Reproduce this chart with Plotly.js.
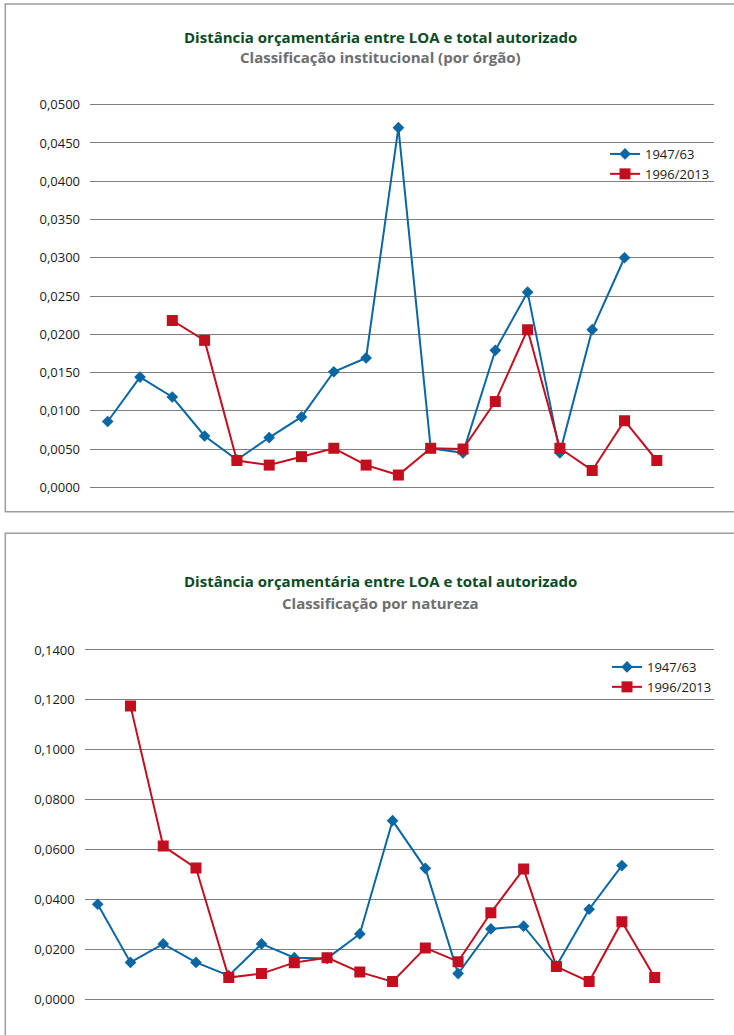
<!DOCTYPE html>
<html>
<head>
<meta charset="utf-8">
<script src="https://cdn.plot.ly/plotly-3.0.1.min.js"></script>
<style>html,body{margin:0;padding:0;background:#fff;}#chart{width:734px;height:1035px;}</style>
</head>
<body>
<div id="chart"></div>
<script>
// Categories (unlabelled positions along x)
const categories = [1,2,3,4,5,6,7,8,9,10,11,12,13,14,15,16,17,18];

// Panel 1: Classificação institucional (por órgão)
const inst1947 = [0.0086,0.0144,0.0118,0.0067,0.0036,0.0065,0.0092,0.0151,0.0169,0.0470,0.0051,0.0045,0.0179,0.0255,0.0045,0.0206,0.0300,null];
const inst1996 = [null,null,0.0218,0.0192,0.0035,0.0029,0.0040,0.0051,0.0029,0.0016,0.0051,0.0050,0.0112,0.0206,0.0051,0.0022,0.0087,0.0035];

// Panel 2: Classificação por natureza
const nat1947 = [0.0381,0.0148,0.0222,0.0148,0.0095,0.0222,0.0167,0.0164,0.0262,0.0716,0.0525,0.0103,0.0282,0.0293,0.0133,0.0361,0.0536,null];
const nat1996 = [null,0.1176,0.0614,0.0526,0.0087,0.0103,0.0147,0.0167,0.0109,0.0071,0.0206,0.0151,0.0347,0.0522,0.0131,0.0071,0.0311,0.0087];

const seriesNames = ['1947/63','1996/2013'];
const titleMain = 'Distância orçamentária entre LOA e total autorizado';
const subTitles = ['Classificação institucional (por órgão)','Classificação por natureza'];

const BLUE = '#0a67a3', RED = '#c20e1f';
const W = 734, H = 1035;
const px = v => v / W, py = v => 1 - v / H;

function blueTrace(y, xa, ya, lg) {
  return {x: categories, y: y, xaxis: xa, yaxis: ya, name: seriesNames[0], legend: lg,
    type: 'scatter', mode: 'lines+markers', connectgaps: false,
    line: {color: BLUE, width: 2}, marker: {symbol: 'diamond', size: 9, color: BLUE}};
}
function redTrace(y, xa, ya, lg) {
  return {x: categories, y: y, xaxis: xa, yaxis: ya, name: seriesNames[1], legend: lg,
    type: 'scatter', mode: 'lines+markers', connectgaps: false,
    line: {color: RED, width: 2}, marker: {symbol: 'square', size: 11, color: RED}};
}

const data = [
  blueTrace(inst1947, 'x', 'y', 'legend'),
  redTrace(inst1996, 'x', 'y', 'legend'),
  blueTrace(nat1947, 'x2', 'y2', 'legend2'),
  redTrace(nat1996, 'x2', 'y2', 'legend2')
];

const tickFont = {family: 'Open Sans, sans-serif', size: 13, color: '#1a1a1a'};
const xCommon = {showgrid: false, zeroline: false, showticklabels: false, ticks: '', showline: false, fixedrange: true};
const yCommon = {showgrid: true, gridcolor: '#7f7f7f', gridwidth: 1, zeroline: false, showline: false,
  tickformat: '.4f', tickfont: tickFont, ticks: '', ticklabelstandoff: 9, fixedrange: true};

const legendFont = {family: 'Open Sans, sans-serif', size: 13, color: '#1a1a1a'};

const layout = {
  width: W, height: H,
  margin: {l: 0, r: 0, t: 0, b: 0},
  paper_bgcolor: '#ffffff', plot_bgcolor: 'rgba(0,0,0,0)',
  separators: ',.',
  showlegend: true,
  xaxis: Object.assign({}, xCommon, {domain: [px(90), px(714.3)], range: [0.452, 19.78], anchor: 'y'}),
  yaxis: Object.assign({}, yCommon, {domain: [py(491.1), py(100.9)], range: [-0.0005, 0.0505], tick0: 0, dtick: 0.005, anchor: 'x'}),
  xaxis2: Object.assign({}, xCommon, {domain: [px(84.7), px(714.3)], range: [0.603, 19.82], anchor: 'y2'}),
  yaxis2: Object.assign({}, yCommon, {domain: [py(1002.8), py(646.5)], range: [-0.0014, 0.1414], tick0: 0, dtick: 0.02, anchor: 'x2'}),
  legend: {x: px(605), y: py(139), xanchor: 'left', yanchor: 'top', font: legendFont, bgcolor: 'rgba(0,0,0,0)', itemwidth: 30, tracegroupgap: 0},
  legend2: {x: px(607), y: py(652), xanchor: 'left', yanchor: 'top', font: legendFont, bgcolor: 'rgba(0,0,0,0)', itemwidth: 30, tracegroupgap: 0},
  shapes: [
    {type: 'rect', xref: 'paper', yref: 'paper', x0: px(5.3), x1: 1.02, y0: py(511.7), y1: py(4), line: {color: '#9d9d9d', width: 1.5}, fillcolor: 'rgba(0,0,0,0)', layer: 'below'},
    {type: 'rect', xref: 'paper', yref: 'paper', x0: px(5.3), x1: 1.02, y0: -0.02, y1: py(533.3), line: {color: '#9d9d9d', width: 1.5}, fillcolor: 'rgba(0,0,0,0)', layer: 'below'}
  ],
  annotations: [
    {text: '<b>' + titleMain + '</b>', xref: 'paper', yref: 'paper', x: px(380), y: py(37), xanchor: 'center', yanchor: 'middle', showarrow: false,
      font: {family: 'Open Sans, sans-serif', size: 15, color: '#0b4a24'}},
    {text: '<b>' + subTitles[0] + '</b>', xref: 'paper', yref: 'paper', x: px(380), y: py(57), xanchor: 'center', yanchor: 'middle', showarrow: false,
      font: {family: 'Open Sans, sans-serif', size: 15, color: '#6d6e70'}},
    {text: '<b>' + titleMain + '</b>', xref: 'paper', yref: 'paper', x: px(380), y: py(581), xanchor: 'center', yanchor: 'middle', showarrow: false,
      font: {family: 'Open Sans, sans-serif', size: 15, color: '#0b4a24'}},
    {text: '<b>' + subTitles[1] + '</b>', xref: 'paper', yref: 'paper', x: px(380), y: py(603), xanchor: 'center', yanchor: 'middle', showarrow: false,
      font: {family: 'Open Sans, sans-serif', size: 15, color: '#6d6e70'}}
  ]
};

Plotly.newPlot('chart', data, layout, {displayModeBar: false, staticPlot: true});
</script>
</body>
</html>
